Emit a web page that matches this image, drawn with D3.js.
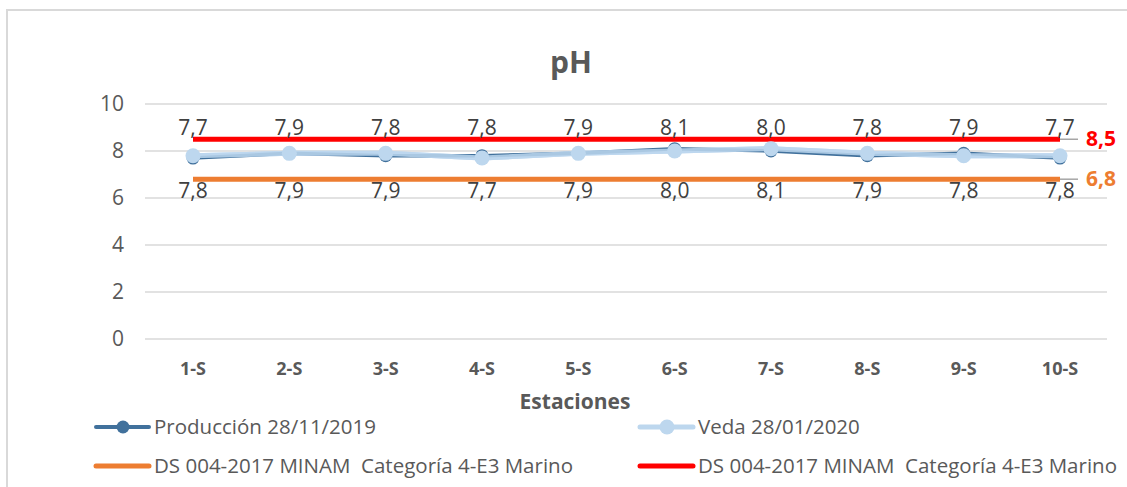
<!DOCTYPE html>
<html>
<head>
<meta charset="utf-8">
<script src="https://cdn.jsdelivr.net/npm/d3@7"></script>
<style>
body { margin: 0; background: #fff; }
text { font-family: "Open Sans", sans-serif; }
</style>
</head>
<body>
<div id="chart"></div>
<script>
var estaciones = ["1-S", "2-S", "3-S", "4-S", "5-S", "6-S", "7-S", "8-S", "9-S", "10-S"];
var produccion = [7.7, 7.9, 7.8, 7.8, 7.9, 8.1, 8.0, 7.8, 7.9, 7.7];
var veda = [7.8, 7.9, 7.9, 7.7, 7.9, 8.0, 8.1, 7.9, 7.8, 7.8];
var limiteMin = 6.8;
var limiteMax = 8.5;
var yTicks = [0, 2, 4, 6, 8, 10];

var width = 1127, height = 487;
var svg = d3.select("#chart").append("svg")
    .attr("width", width)
    .attr("height", height);

// chart frame
svg.append("rect")
    .attr("x", 7).attr("y", 10)
    .attr("width", 1130).attr("height", 490)
    .attr("fill", "none")
    .attr("stroke", "#d9d9d9")
    .attr("stroke-width", 2);

var x = d3.scalePoint().domain(estaciones).range([193, 1060]);
var y = d3.scaleLinear().domain([0, 10]).range([339, 104]);

// gridlines
svg.selectAll(".grid").data(yTicks).enter().append("line")
    .attr("x1", 145).attr("x2", 1107)
    .attr("y1", d => y(d)).attr("y2", d => y(d))
    .attr("stroke", "#d9d9d9").attr("stroke-width", 1.5);

svg.selectAll(".ylab").data(yTicks).enter().append("text")
    .attr("x", 124).attr("y", d => y(d) + 7)
    .attr("text-anchor", "end")
    .attr("font-size", 21).attr("fill", "#595959")
    .text(d => d);

svg.selectAll(".xlab").data(estaciones).enter().append("text")
    .attr("x", d => x(d)).attr("y", 375)
    .attr("text-anchor", "middle")
    .attr("font-size", 18).attr("font-weight", "bold").attr("fill", "#595959")
    .text(d => d);

svg.append("text")
    .attr("x", 575).attr("y", 409)
    .attr("text-anchor", "middle")
    .attr("font-size", 21).attr("font-weight", "bold").attr("fill", "#595959")
    .text("Estaciones");

svg.append("text")
    .attr("x", 571).attr("y", 73)
    .attr("text-anchor", "middle")
    .attr("font-size", 30).attr("font-weight", "bold").attr("fill", "#595959")
    .text("pH");

// limit lines
var ends = [estaciones[0], estaciones[estaciones.length - 1]];
var limits = [
  {v: limiteMax, color: "#ff0000"},
  {v: limiteMin, color: "#ed7d31"}
];
var fmt = d => d3.format(".1f")(d).replace(".", ",");
limits.forEach(function(l) {
  svg.append("line")
      .attr("x1", x(ends[0])).attr("x2", x(ends[1]))
      .attr("y1", y(l.v)).attr("y2", y(l.v))
      .attr("stroke", l.color).attr("stroke-width", 5);
  svg.append("line")
      .attr("x1", x(ends[1])).attr("x2", x(ends[1]) + 18)
      .attr("y1", y(l.v)).attr("y2", y(l.v))
      .attr("stroke", "#a6a6a6").attr("stroke-width", 1.5);
  svg.append("text")
      .attr("x", x(ends[1]) + 26).attr("y", y(l.v) + 7)
      .attr("font-size", 21).attr("font-weight", "bold").attr("fill", l.color)
      .text(fmt(l.v));
});

var line = d3.line().x((d, i) => x(estaciones[i])).y(d => y(d));

// Veda (light)
svg.append("path").datum(veda)
    .attr("d", line).attr("fill", "none")
    .attr("stroke", "#bdd7ee").attr("stroke-width", 5);
// Produccion (dark)
svg.append("path").datum(produccion)
    .attr("d", line).attr("fill", "none")
    .attr("stroke", "#41719c").attr("stroke-width", 3.5);
svg.selectAll(".mp").data(produccion).enter().append("circle")
    .attr("cx", (d, i) => x(estaciones[i])).attr("cy", d => y(d))
    .attr("r", 6.5).attr("fill", "#41719c");
svg.append("path").datum(veda)
    .attr("d", line).attr("fill", "none")
    .attr("stroke", "#bdd7ee").attr("stroke-width", 5).attr("opacity", 0.85);
svg.selectAll(".mv").data(veda).enter().append("circle")
    .attr("cx", (d, i) => x(estaciones[i])).attr("cy", d => y(d))
    .attr("r", 7.5).attr("fill", "#bdd7ee");

svg.selectAll(".lp").data(produccion).enter().append("text")
    .attr("x", (d, i) => x(estaciones[i])).attr("y", 135)
    .attr("text-anchor", "middle")
    .attr("font-size", 21).attr("fill", "#404040")
    .text(fmt);
svg.selectAll(".lv").data(veda).enter().append("text")
    .attr("x", (d, i) => x(estaciones[i])).attr("y", 198)
    .attr("text-anchor", "middle")
    .attr("font-size", 21).attr("fill", "#404040")
    .text(fmt);

// legend
var legend = [
  {name: "Producción 28/11/2019", color: "#41719c", w: 4, r: 6.5, x: 96, y: 427},
  {name: "Veda 28/01/2020", color: "#bdd7ee", w: 5, r: 7.5, x: 640, y: 427},
  {name: "DS 004-2017 MINAM  Categoría 4-E3 Marino", color: "#ed7d31", w: 5, r: 0, x: 96, y: 466},
  {name: "DS 004-2017 MINAM  Categoría 4-E3 Marino", color: "#ff0000", w: 5, r: 0, x: 640, y: 466}
];
legend.forEach(function(l) {
  var g = svg.append("g");
  g.append("line")
      .attr("x1", l.x).attr("x2", l.x + 53)
      .attr("y1", l.y).attr("y2", l.y)
      .attr("stroke", l.color).attr("stroke-width", l.w)
      .attr("stroke-linecap", "round");
  if (l.r) g.append("circle").attr("cx", l.x + 27).attr("cy", l.y).attr("r", l.r).attr("fill", l.color);
  g.append("text")
      .attr("x", l.x + 58).attr("y", l.y + 7)
      .attr("font-size", 20.5).attr("fill", "#595959")
      .style("white-space", "pre")
      .text(l.name);
});
</script>
</body>
</html>
